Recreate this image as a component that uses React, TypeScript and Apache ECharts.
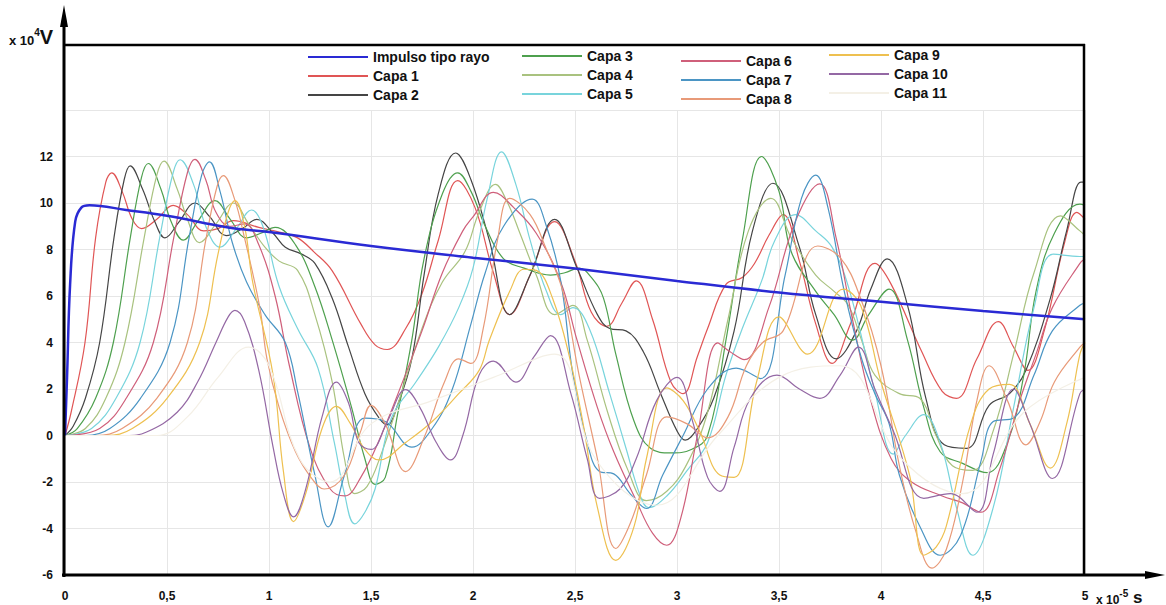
import React, { useEffect, useRef } from 'react';
import * as echarts from 'echarts';

const seriesNames = ['Impulso tipo rayo', 'Capa 1', 'Capa 2', 'Capa 3', 'Capa 4', 'Capa 5', 'Capa 6', 'Capa 7', 'Capa 8', 'Capa 9', 'Capa 10', 'Capa 11'];
const seriesColors = ['#2a2ad4', '#e05555', '#454545', '#4ea04e', '#a9c27f', '#78d4dc', '#cf5f7a', '#4b95c4', '#e89a78', '#eec050', '#9468a4', '#f4f0e6'];

const xTicks = [0, 0.5, 1, 1.5, 2, 2.5, 3, 3.5, 4, 4.5, 5];
const yTicks = [-6, -4, -2, 0, 2, 4, 6, 8, 10, 12];

const impulso = [[0,0],[0.01,2.5],[0.025,6.5],[0.05,9.2],[0.08,9.8],[0.12,9.9],[0.3,9.7],[0.5,9.45],[0.8,8.95],[1.0,8.75],[1.5,8.15],[2.0,7.65],[2.5,7.18],[3.0,6.65],[3.5,6.15],[4.0,5.75],[4.5,5.35],[5.0,5.0]];

const capa1 = [[0,0],[0.03,1.0],[0.098,4.0],[0.15,8.5],[0.2,10.9],[0.229,11.3],[0.28,10.5],[0.33,9.3],[0.376,8.9],[0.45,9.3],[0.53,9.9],[0.6,9.5],[0.68,8.8],[0.75,8.9],[0.825,9.24],[0.95,8.95],[1.05,8.75],[1.14,8.5],[1.22,7.9],[1.31,7.08],[1.45,4.8],[1.52,3.9],[1.58,3.7],[1.67,4.6],[1.75,6.1],[1.83,8.4],[1.925,10.96],[2.01,9.8],[2.1,7.0],[2.18,5.2],[2.28,6.9],[2.4,9.2],[2.5,7.5],[2.58,5.3],[2.655,4.7],[2.73,5.7],[2.8,6.65],[2.88,5.0],[2.97,2.3],[3.03,1.8],[3.1,3.4],[3.15,4.6],[3.24,6.5],[3.32,6.8],[3.38,7.4],[3.45,8.6],[3.52,9.5],[3.6,7.5],[3.68,4.8],[3.76,3.1],[3.85,4.8],[3.97,7.4],[4.05,6.5],[4.2,3.6],[4.3,1.9],[4.37,1.6],[4.47,3.3],[4.575,4.9],[4.65,3.8],[4.72,2.8],[4.8,4.5],[4.9,8.3],[4.96,9.6],[5.0,9.3]];

const capa2 = [[0,0],[0.04,0.4],[0.1,1.6],[0.17,4.0],[0.24,8.5],[0.29,11.0],[0.319,11.6],[0.38,10.6],[0.44,9.2],[0.49,8.5],[0.56,9.2],[0.637,10.0],[0.71,9.4],[0.79,8.6],[0.87,8.9],[0.94,9.3],[1.02,8.7],[1.08,8.1],[1.16,7.8],[1.225,7.4],[1.31,5.9],[1.39,3.8],[1.47,1.8],[1.54,0.75],[1.58,0.46],[1.63,1.3],[1.7,3.3],[1.76,6.9],[1.83,10.4],[1.915,12.15],[1.99,11.0],[2.08,8.4],[2.18,5.2],[2.28,6.9],[2.4,9.3],[2.51,7.2],[2.61,5.2],[2.67,4.6],[2.75,4.5],[2.835,3.6],[2.92,1.8],[3.0,0.2],[3.04,-0.2],[3.1,0.3],[3.18,1.6],[3.28,4.5],[3.37,8.8],[3.47,10.85],[3.6,8.1],[3.68,5.2],[3.78,3.3],[3.88,4.5],[3.95,6.3],[4.03,7.6],[4.13,5.6],[4.22,1.6],[4.31,-0.4],[4.42,-0.55],[4.53,1.3],[4.63,1.8],[4.71,2.8],[4.83,5.9],[4.91,8.8],[4.98,10.9],[5.0,10.9]];

const capa3 = [[0,0],[0.06,0.3],[0.15,1.6],[0.237,4.0],[0.32,8.5],[0.375,11.1],[0.408,11.7],[0.47,10.6],[0.52,9.2],[0.58,8.4],[0.65,9.2],[0.735,10.1],[0.81,9.3],[0.89,8.5],[0.96,8.7],[1.03,8.95],[1.13,8.2],[1.225,6.4],[1.31,4.1],[1.405,1.2],[1.47,-1.0],[1.52,-2.1],[1.57,-1.8],[1.63,0.9],[1.7,4.1],[1.76,7.6],[1.85,10.4],[1.925,11.3],[1.99,10.5],[2.06,9.0],[2.15,7.6],[2.25,7.2],[2.38,6.9],[2.45,7.0],[2.52,7.2],[2.58,6.8],[2.64,5.9],[2.7,3.5],[2.79,0.6],[2.87,-0.55],[2.97,-0.75],[3.07,-0.6],[3.15,0.0],[3.24,4.1],[3.32,8.4],[3.415,12.0],[3.5,10.5],[3.56,7.9],[3.68,6.2],[3.77,5.2],[3.86,4.1],[3.94,5.2],[4.04,6.3],[4.13,4.1],[4.21,1.2],[4.29,-0.7],[4.4,-1.2],[4.52,-1.6],[4.62,-0.3],[4.7,2.6],[4.76,6.2],[4.85,8.7],[4.975,9.95],[5.0,9.9]];

const capa4 = [[0,0],[0.1,0.3],[0.2,1.6],[0.294,4.0],[0.39,8.6],[0.45,11.2],[0.485,11.8],[0.55,10.6],[0.6,9.3],[0.66,8.3],[0.74,9.1],[0.825,10.0],[0.9,9.1],[0.98,8.1],[1.05,7.5],[1.14,7.1],[1.225,5.2],[1.31,2.3],[1.37,-1.0],[1.42,-2.5],[1.48,-2.2],[1.55,-0.8],[1.63,1.3],[1.75,4.6],[1.85,6.6],[1.96,7.9],[2.03,9.6],[2.11,10.8],[2.17,10.0],[2.23,8.7],[2.31,6.9],[2.4,5.2],[2.49,5.6],[2.56,4.1],[2.66,1.0],[2.76,-1.5],[2.85,-2.8],[2.95,-2.4],[3.05,-1.2],[3.15,1.0],[3.25,5.0],[3.35,8.8],[3.46,10.2],[3.56,8.5],[3.68,6.9],[3.77,6.2],[3.84,5.6],[3.905,4.1],[3.97,2.6],[4.09,1.8],[4.19,1.6],[4.27,0.0],[4.35,-1.3],[4.45,-1.5],[4.55,0.2],[4.65,3.5],[4.75,7.0],[4.88,9.45],[4.975,8.8],[5.0,8.6]];

const capa5 = [[0,0],[0.13,0.3],[0.25,1.6],[0.368,4.0],[0.466,8.6],[0.53,11.3],[0.564,11.86],[0.63,10.8],[0.69,9.0],[0.76,8.1],[0.84,8.9],[0.915,9.7],[0.97,9.0],[1.05,6.4],[1.14,4.6],[1.24,2.9],[1.32,-0.3],[1.37,-2.5],[1.42,-3.8],[1.47,-3.3],[1.52,-2.3],[1.6,0.75],[1.72,2.3],[1.83,3.8],[1.93,5.5],[2.0,7.2],[2.07,10.2],[2.14,12.2],[2.21,10.8],[2.28,8.4],[2.36,6.2],[2.43,5.2],[2.49,5.5],[2.57,4.6],[2.67,1.8],[2.75,-0.55],[2.82,-2.6],[2.86,-3.1],[2.95,-2.6],[3.05,-1.5],[3.15,-0.3],[3.24,2.6],[3.32,4.6],[3.415,6.65],[3.48,8.4],[3.58,9.5],[3.68,8.8],[3.76,8.1],[3.84,6.4],[3.97,1.9],[4.06,-0.8],[4.12,0.0],[4.21,0.9],[4.29,-0.3],[4.37,-3.1],[4.45,-5.15],[4.55,-3.1],[4.65,1.2],[4.75,5.5],[4.845,7.8],[4.975,7.7],[5.0,7.7]];

const capa6 = [[0,0],[0.17,0.3],[0.3,1.6],[0.433,4.0],[0.535,8.6],[0.6,11.3],[0.637,11.88],[0.69,11.0],[0.74,9.6],[0.81,9.0],[0.88,9.1],[0.95,8.2],[1.03,6.0],[1.1,3.0],[1.2,-0.5],[1.3,-2.3],[1.37,-2.6],[1.45,-1.8],[1.55,0.0],[1.65,2.2],[1.75,4.5],[1.85,7.0],[1.95,8.8],[2.0,9.4],[2.1,10.46],[2.2,9.8],[2.31,8.7],[2.43,6.6],[2.51,4.1],[2.61,1.2],[2.69,-0.7],[2.8,-2.8],[2.88,-4.2],[2.95,-4.72],[3.02,-3.5],[3.1,0.0],[3.2,3.98],[3.26,3.6],[3.33,3.26],[3.45,5.5],[3.58,9.2],[3.7,10.82],[3.78,8.5],[3.86,5.0],[3.95,1.5],[4.05,-1.0],[4.15,-2.0],[4.3,-2.6],[4.4,-2.9],[4.49,-3.3],[4.58,-1.5],[4.68,1.5],[4.76,3.5],[4.84,5.5],[4.975,7.4],[5.0,7.6]];

const capa7 = [[0,0],[0.1,0.0],[0.22,0.3],[0.37,1.6],[0.515,4.0],[0.61,8.6],[0.67,11.2],[0.708,11.77],[0.76,10.5],[0.82,8.3],[0.89,6.6],[0.98,5.2],[1.08,4.0],[1.14,1.9],[1.225,-1.7],[1.29,-3.93],[1.37,-1.7],[1.47,0.75],[1.57,0.6],[1.7,-0.5],[1.8,0.3],[1.895,1.9],[1.99,4.8],[2.06,7.0],[2.15,9.0],[2.29,10.17],[2.36,9.0],[2.43,6.65],[2.49,2.6],[2.56,-0.3],[2.62,-1.55],[2.69,-1.65],[2.77,-2.5],[2.85,-3.14],[2.93,-1.7],[3.03,0.0],[3.15,2.0],[3.29,2.9],[3.41,2.45],[3.53,6.9],[3.61,10.2],[3.68,11.2],[3.74,9.8],[3.82,6.2],[3.905,3.3],[3.97,1.8],[4.04,0.5],[4.09,-1.7],[4.19,-3.9],[4.29,-5.15],[4.39,-4.3],[4.49,-1.1],[4.55,0.6],[4.65,0.75],[4.75,2.6],[4.84,4.5],[4.975,5.6],[5.0,5.7]];

const capa8 = [[0,0],[0.15,0.0],[0.28,0.3],[0.45,1.6],[0.6,4.0],[0.69,8.4],[0.745,10.7],[0.776,11.18],[0.83,10.2],[0.88,8.5],[0.955,5.5],[0.99,3.3],[1.05,1.2],[1.13,-0.7],[1.21,-1.85],[1.27,-2.3],[1.37,-1.7],[1.45,0.2],[1.5,1.3],[1.57,0.5],[1.67,-1.55],[1.76,-0.1],[1.86,2.3],[1.93,3.3],[1.99,3.1],[2.05,4.6],[2.12,8.4],[2.18,10.2],[2.28,9.5],[2.36,8.0],[2.44,6.2],[2.52,2.6],[2.61,-1.0],[2.7,-4.86],[2.77,-3.8],[2.85,-1.7],[2.95,0.8],[3.05,0.5],[3.15,-0.1],[3.25,0.8],[3.34,3.0],[3.42,4.0],[3.52,4.5],[3.69,8.15],[3.8,7.65],[3.9,5.9],[4.0,3.0],[4.09,-1.3],[4.17,-4.1],[4.25,-5.7],[4.32,-4.9],[4.4,-2.0],[4.47,1.5],[4.53,3.0],[4.62,1.5],[4.71,-0.4],[4.78,0.6],[4.85,2.3],[4.975,3.8],[5.0,4.0]];

const capa9 = [[0,0],[0.2,0.0],[0.33,0.3],[0.5,1.6],[0.66,4.0],[0.75,7.8],[0.8,9.6],[0.833,10.1],[0.88,9.0],[0.92,6.6],[1.02,2.6],[1.07,-1.5],[1.12,-3.7],[1.18,-2.5],[1.26,0.3],[1.33,1.25],[1.4,0.5],[1.47,-0.6],[1.54,-1.05],[1.67,-0.3],[1.8,0.6],[1.93,1.8],[2.03,2.8],[2.08,4.1],[2.18,6.2],[2.25,7.15],[2.31,7.1],[2.39,5.9],[2.475,3.3],[2.54,0.5],[2.61,-3.1],[2.7,-5.37],[2.79,-3.9],[2.85,-1.0],[2.95,2.05],[3.03,1.5],[3.11,0.2],[3.21,-1.7],[3.28,-1.8],[3.39,2.3],[3.5,5.1],[3.64,3.5],[3.815,6.3],[3.9,5.6],[4.0,2.3],[4.14,-1.7],[4.21,-5.15],[4.27,-4.8],[4.32,-3.9],[4.44,0.5],[4.53,2.0],[4.63,2.2],[4.73,0.5],[4.83,-1.4],[4.91,0.5],[4.975,3.5],[5.0,4.0]];

const capa10 = [[0,0],[0.3,0.0],[0.4,0.15],[0.55,1.0],[0.65,2.3],[0.74,4.0],[0.8,5.1],[0.833,5.38],[0.88,4.9],[0.95,2.8],[1.02,-0.5],[1.07,-2.5],[1.12,-3.5],[1.18,-2.3],[1.26,0.8],[1.33,2.3],[1.39,1.4],[1.44,-0.3],[1.5,-0.6],[1.58,0.6],[1.67,1.97],[1.74,1.2],[1.82,-0.3],[1.89,-1.05],[1.95,0.0],[2.03,2.6],[2.1,3.2],[2.21,2.3],[2.3,3.4],[2.38,4.3],[2.48,1.8],[2.56,-1.0],[2.62,-2.7],[2.72,-2.3],[2.8,-1.0],[2.9,1.5],[3.0,2.5],[3.08,0.5],[3.15,-1.8],[3.21,-2.4],[3.28,-0.5],[3.36,1.6],[3.49,2.6],[3.6,2.0],[3.7,1.6],[3.8,2.6],[3.89,3.8],[3.97,2.0],[4.06,0.2],[4.21,-2.7],[4.34,-2.5],[4.47,-3.3],[4.55,-0.8],[4.65,2.0],[4.73,0.5],[4.84,-1.85],[4.975,1.8],[5.0,2.0]];

const capa11 = [[0,0],[0.45,0.0],[0.6,0.8],[0.75,2.5],[0.9,3.8],[1.0,3.0],[1.15,-1.0],[1.3,-2.0],[1.5,0.5],[1.8,1.5],[2.1,2.5],[2.4,3.5],[2.6,-1.0],[2.9,-3.0],[3.2,0.0],[3.5,2.5],[3.8,3.0],[4.1,-1.0],[4.4,-2.5],[4.7,1.0],[5.0,2.5]];

const seriesData = [impulso, capa1, capa2, capa3, capa4, capa5, capa6, capa7, capa8, capa9, capa10, capa11];

const FONT = '"Liberation Sans", Arial, sans-serif';

export default function App() {
  const ref = useRef<HTMLDivElement>(null);
  useEffect(() => {
    document.body.style.margin = '0';
    const chart = echarts.init(ref.current as HTMLDivElement, null, { renderer: 'svg' });
    const legendBase = {
      orient: 'vertical',
      itemWidth: 60,
      itemHeight: 14,
      itemGap: 5,
      padding: 0,
      selectedMode: false,
      itemStyle: { opacity: 0, borderWidth: 0 },
      textStyle: { fontFamily: FONT, fontWeight: 'bold', fontSize: 14, color: '#111' },
    };
    const option = {
      animation: false,
      backgroundColor: '#fff',
      grid: { left: 65, right: 81, top: 110, bottom: 30, containLabel: false },
      legend: [
        { ...legendBase, left: 307, top: 50, data: seriesNames.slice(0, 3) },
        { ...legendBase, left: 521, top: 49, data: seriesNames.slice(3, 6) },
        { ...legendBase, left: 680, top: 54, data: seriesNames.slice(6, 9) },
        { ...legendBase, left: 828, top: 48, data: seriesNames.slice(9, 12) },
      ],
      xAxis: {
        type: 'value',
        min: xTicks[0],
        max: xTicks[xTicks.length - 1],
        interval: 0.5,
        axisLine: { show: false },
        axisTick: { show: false },
        axisLabel: {
          margin: 15,
          fontFamily: FONT,
          fontWeight: 'bold',
          fontSize: 12,
          color: '#111',
          formatter: (v: number) => (xTicks.includes(v) ? String(v).replace('.', ',') : ''),
        },
        splitLine: { show: true, lineStyle: { color: '#e6e6e6', width: 1 } },
      },
      yAxis: {
        type: 'value',
        min: -6,
        max: 14,
        interval: 2,
        axisLine: { show: false },
        axisTick: { show: false },
        axisLabel: {
          margin: 12,
          fontFamily: FONT,
          fontWeight: 'bold',
          fontSize: 12,
          color: '#111',
          formatter: (v: number) => (yTicks.includes(v) ? String(v) : ''),
        },
        splitLine: { show: true, lineStyle: { color: '#e6e6e6', width: 1 } },
      },
      series: seriesNames.map((name, i) => ({
        name,
        type: 'line',
        data: seriesData[i],
        symbol: 'none',
        smooth: 0.4,
        z: i === 0 ? 5 : 3,
        color: seriesColors[i],
        lineStyle: { color: seriesColors[i], width: i === 0 ? 2.5 : 1.2 },
      })),
      graphic: [
        { type: 'line', z: 100, shape: { x1: 63, y1: 45, x2: 1085, y2: 45 }, style: { stroke: '#000', lineWidth: 2.5 } },
        { type: 'line', z: 100, shape: { x1: 1084, y1: 44, x2: 1084, y2: 576 }, style: { stroke: '#000', lineWidth: 2.5 } },
        { type: 'line', z: 100, shape: { x1: 64, y1: 577, x2: 64, y2: 22 }, style: { stroke: '#000', lineWidth: 3 } },
        { type: 'polygon', z: 100, shape: { points: [[64, 5], [60, 27], [68, 27]] }, style: { fill: '#000' } },
        { type: 'line', z: 100, shape: { x1: 62, y1: 575, x2: 1150, y2: 575 }, style: { stroke: '#000', lineWidth: 3 } },
        { type: 'polygon', z: 100, shape: { points: [[1165, 575], [1145, 571], [1145, 579]] }, style: { fill: '#000' } },
        {
          type: 'text', z: 100, x: 9, y: 37,
          style: {
            text: '{a|x 10}{b|4}{c|V}',
            verticalAlign: 'middle',
            rich: {
              a: { fontFamily: FONT, fontWeight: 'bold', fontSize: 13, fill: '#111', verticalAlign: 'bottom' },
              b: { fontFamily: FONT, fontWeight: 'bold', fontSize: 10, fill: '#111', verticalAlign: 'top' },
              c: { fontFamily: FONT, fontWeight: 'bold', fontSize: 20, fill: '#111', verticalAlign: 'bottom' },
            },
          },
        },
        {
          type: 'text', z: 100, x: 1096, y: 597,
          style: {
            text: '{a|x 10}{b|-5}{c| s}',
            verticalAlign: 'middle',
            rich: {
              a: { fontFamily: FONT, fontWeight: 'bold', fontSize: 12, fill: '#111', verticalAlign: 'bottom' },
              b: { fontFamily: FONT, fontWeight: 'bold', fontSize: 10, fill: '#111', verticalAlign: 'top' },
              c: { fontFamily: FONT, fontWeight: 'bold', fontSize: 17, fill: '#111', verticalAlign: 'bottom' },
            },
          },
        },
      ],
    };
    chart.setOption(option as any);
    return () => chart.dispose();
  }, []);
  return <div ref={ref} style={{ width: 1166, height: 605 }} />;
}
